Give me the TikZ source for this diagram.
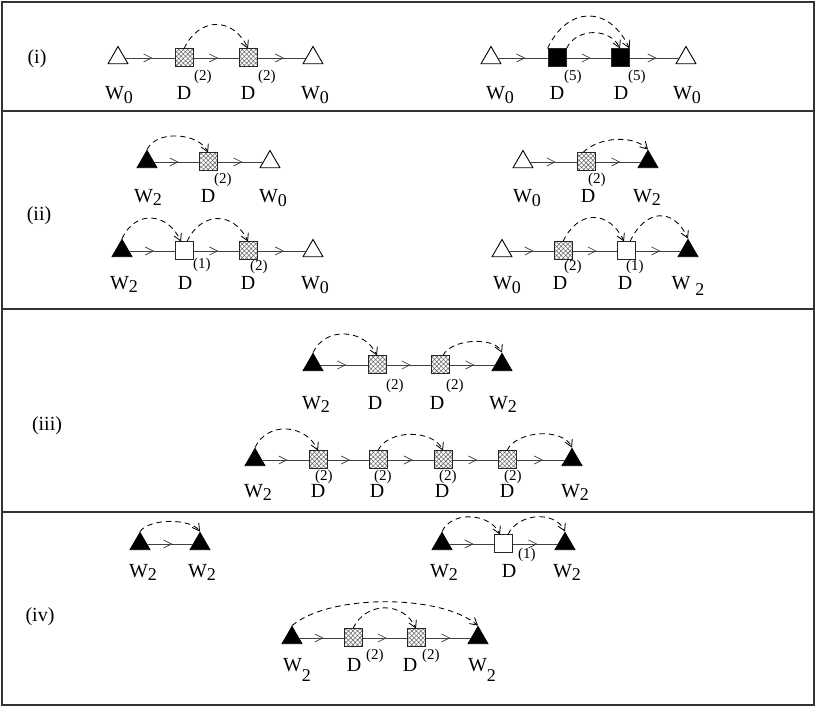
\documentclass[tikz,border=0pt]{standalone}
\usepackage{fontspec}
\setmainfont{Liberation Serif}
\usetikzlibrary{shapes.geometric,arrows.meta,decorations.markings,patterns.meta}

\newcommand{\labsize}{\fontsize{20}{20}\selectfont}
\newcommand{\Wn}[2][4pt]{W\raisebox{-#1}{\fontsize{18}{18}\selectfont #2}}
\newcommand{\Dn}[3][1pt]{D\rlap{\kern#1\raisebox{#2}{\fontsize{15}{15}\selectfont(#3)}}}

\tikzset{
	wtri/.style={regular polygon, regular polygon sides=3, minimum size=23pt, inner sep=0pt, draw=black, line width=0.9pt},
	wzero/.style={wtri, fill=white},
	wtwo/.style={wtri, fill=black},
	dbox/.style={rectangle, minimum size=18pt, inner sep=0pt, draw=black!85, line width=1pt},
	dtwo/.style={dbox, pattern={Hatch[angle=45,distance=3.2pt,line width=0.55pt]}, pattern color=black!60},
	dfive/.style={dbox, fill=black},
	done/.style={dbox, fill=white},
	lab/.style={anchor=base, inner sep=0pt, font=\labsize},
	part/.style={inner sep=0pt, font=\fontsize{20}{20}\selectfont},
	flow/.style={draw=black!75, line width=0.75pt, postaction={decorate},
		decoration={markings, mark=at position 0.55 with {\arrow{Straight Barb[length=8pt,width=8pt]}}}},
	hop/.style={draw=black, line width=0.85pt, dash pattern=on 5.5pt off 4pt, -{Straight Barb[length=7pt,width=8pt]}, looseness=#1},
	hop/.default=1,
}

\begin{document}
\begin{tikzpicture}[x=1pt,y=1pt]
	\useasboundingbox (0,0) rectangle (817,708);
	% frame
	\draw[line width=1.2pt, draw=black!80] (2,3) rectangle (814,706);
	\draw[line width=1.2pt, draw=black!80] (2,597) -- (814,597);
	\draw[line width=1.2pt, draw=black!80] (2,399) -- (814,399);
	\draw[line width=1.2pt, draw=black!80] (2,196) -- (814,196);
	\node[part] (pi) at (37,649) {(i)};
	\node[part] (pii) at (39,492) {(ii)};
	\node[part] (piii) at (47,282) {(iii)};
	\node[part] (piv) at (40,91) {(iv)};

	% (i)
	\node[wzero] (a1) at (118,650) {};
	\node[dtwo] (a2) at (184,650) {};
	\node[dtwo] (a3) at (248,650) {};
	\node[wzero] (a4) at (313,650) {};
	\node[wzero] (a5) at (491,650) {};
	\node[dfive] (a6) at (557,650) {};
	\node[dfive] (a7) at (620,650) {};
	\node[wzero] (a8) at (686,650) {};
	\draw[flow] (a1) -- (a2);
	\draw[flow] (a2) -- (a3);
	\draw[flow] (a3) -- (a4);
	\draw[flow] (a5) -- (a6);
	\draw[flow] (a6) -- (a7);
	\draw[flow] (a7) -- (a8);
	\draw[hop=1.41] (a2.north) to[out=65,in=115] (a3.north);
	\draw[hop=1.49] (a6.north west) to[out=65,in=115] (a7.north east);
	\draw[hop=1.11] (a6.north east) to[out=65,in=115] (a7.north);
	\node[lab] (la1) at (119,608) {\Wn{0}};
	\node[lab] (la2) at (184,608) {\Dn[3pt]{19.5pt}{2}};
	\node[lab] (la3) at (248,608) {\Dn[3pt]{19.5pt}{2}};
	\node[lab] (la4) at (315,608) {\Wn{0}};
	\node[lab] (la5) at (500,608) {\Wn{0}};
	\node[lab] (la6) at (557,608) {\Dn[0pt]{19.5pt}{5}};
	\node[lab] (la7) at (621,608) {\Dn[0pt]{19.5pt}{5}};
	\node[lab] (la8) at (687,608) {\Wn{0}};

	% (ii)
	\node[wtwo] (b1) at (147,546) {};
	\node[dtwo] (b2) at (208,546) {};
	\node[wzero] (b3) at (270,546) {};
	\node[wzero] (b4) at (523,546) {};
	\node[dtwo] (b5) at (586,546) {};
	\node[wtwo] (b6) at (648,546) {};
	\draw[flow] (b1) -- (b2);
	\draw[flow] (b2) -- (b3);
	\draw[flow] (b4) -- (b5);
	\draw[flow] (b5) -- (b6);
	\draw[hop=0.92] (b1.corner 1) to[out=65,in=115] (b2.north);
	\draw[hop=0.85] ([xshift=-3pt]b5.north) to[out=45,in=135] (b6.corner 1);
	\node[lab] (lb1) at (148,505) {\Wn[3pt]{2}};
	\node[lab] (lb2) at (208,505) {\Dn[-1pt]{19.5pt}{2}};
	\node[lab] (lb3) at (273,505) {\Wn{0}};
	\node[lab] (lb4) at (527,505) {\Wn{0}};
	\node[lab] (lb5) at (588,505) {\Dn[-7pt]{19.5pt}{2}};
	\node[lab] (lb6) at (647,505) {\Wn[3pt]{2}};

	\node[wtwo] (c1) at (122,457) {};
	\node[done] (c2) at (184,457) {};
	\node[dtwo] (c3) at (248,457) {};
	\node[wzero] (c4) at (313,457) {};
	\node[wzero] (c5) at (502,457) {};
	\node[dtwo] (c6) at (563,457) {};
	\node[done] (c7) at (626,457) {};
	\node[wtwo] (c8) at (688,457) {};
	\draw[flow] (c1) -- (c2);
	\draw[flow] (c2) -- (c3);
	\draw[flow] (c3) -- (c4);
	\draw[flow] (c5) -- (c6);
	\draw[flow] (c6) -- (c7);
	\draw[flow] (c7) -- (c8);
	\draw[hop=1.39] (c1.corner 1) to[out=65,in=115] ([xshift=-3pt]c2.north);
	\draw[hop=1.41] ([xshift=3pt]c2.north) to[out=65,in=115] (c3.north);
	\draw[hop=1.48] (c6.north) to[out=65,in=115] ([xshift=-2pt]c7.north);
	\draw[hop=1.56] ([xshift=4pt]c7.north) to[out=65,in=115] (c8.corner 1);
	\node[lab] (lc1) at (124,418) {\Wn[3pt]{2}};
	\node[lab] (lc2) at (185,418) {\Dn[1pt]{21.5pt}{1}};
	\node[lab] (lc3) at (248,418) {\Dn[-5pt]{19.5pt}{2}};
	\node[lab] (lc4) at (315,418) {\Wn{0}};
	\node[lab] (lc5) at (507,418) {\Wn{0}};
	\node[lab] (lc6) at (560,418) {\Dn[-3pt]{19.5pt}{2}};
	\node[lab] (lc7) at (625,418) {\Dn[-6pt]{19.5pt}{1}};
	\node[lab] (lc8) at (688,418) {W\hspace{5pt}\raisebox{-6pt}{\fontsize{18}{18}\selectfont 2}};

	% (iii)
	\node[wtwo] (d1) at (313,343) {};
	\node[dtwo] (d2) at (377,343) {};
	\node[dtwo] (d3) at (440,343) {};
	\node[wtwo] (d4) at (502,343) {};
	\draw[flow] (d1) -- (d2);
	\draw[flow] (d2) -- (d3);
	\draw[flow] (d3) -- (d4);
	\draw[hop=1.17] (d1.corner 1) to[out=65,in=115] (d2.north);
	\draw[hop=0.79] ([xshift=3pt]d3.north) to[out=65,in=115] (d4.corner 1);
	\node[lab] (ld1) at (316,298) {\Wn[3pt]{2}};
	\node[lab] (ld2) at (375,298) {\Dn[4pt]{20.5pt}{2}};
	\node[lab] (ld3) at (437,298) {\Dn[2pt]{20.5pt}{2}};
	\node[lab] (ld4) at (503,298) {\Wn[3pt]{2}};

	\node[wtwo] (e1) at (255,248) {};
	\node[dtwo] (e2) at (318,248) {};
	\node[dtwo] (e3) at (378,248) {};
	\node[dtwo] (e4) at (443,248) {};
	\node[dtwo] (e5) at (507,248) {};
	\node[wtwo] (e6) at (572,248) {};
	\draw[flow] (e1) -- (e2);
	\draw[flow] (e2) -- (e3);
	\draw[flow] (e3) -- (e4);
	\draw[flow] (e4) -- (e5);
	\draw[flow] (e5) -- (e6);
	\draw[hop=1.19] (e1.corner 1) to[out=65,in=115] (e2.north);
	\draw[hop=0.93] (e3.north) to[out=65,in=115] (e4.north);
	\draw[hop=0.87] (e5.north) to[out=65,in=115] (e6.corner 1);
	\node[lab] (le1) at (258,210) {\Wn[3pt]{2}};
	\node[lab] (le2) at (318,210) {\Dn[-10pt]{17pt}{2}};
	\node[lab] (le3) at (377,210) {\Dn[-10pt]{17pt}{2}};
	\node[lab] (le4) at (442,210) {\Dn[-10pt]{17pt}{2}};
	\node[lab] (le5) at (507,210) {\Dn[-10pt]{17pt}{2}};
	\node[lab] (le6) at (575,210) {\Wn[3pt]{2}};

	% (iv)
	\node[wtwo] (f1) at (140,164) {};
	\node[wtwo] (f2) at (200,164) {};
	\draw[flow] (f1) -- (f2);
	\draw[hop=0.7] (f1.corner 1) to[out=55,in=125] (f2.corner 1);
	\node[lab] (lf1) at (143,130) {\Wn[3pt]{2}};
	\node[lab] (lf2) at (202,130) {\Wn[3pt]{2}};

	\node[wtwo] (g1) at (442,164) {};
	\node[done] (g2) at (503,164) {};
	\node[wtwo] (g3) at (565,164) {};
	\draw[flow] (g1) -- (g2);
	\draw[flow] (g2) -- (g3);
	\draw[hop=1.04] (g1.corner 1) to[out=65,in=115] ([xshift=-3pt]g2.north);
	\draw[hop=1.06] ([xshift=5pt]g2.north) to[out=65,in=115] (g3.corner 1);
	\node[lab] (lg1) at (444,130) {\Wn[3pt]{2}};
	\node[lab] (lg2) at (509,130) {\Dn[2pt]{19.5pt}{1}};
	\node[lab] (lg3) at (567,130) {\Wn[3pt]{2}};

	\node[wtwo] (h1) at (292,70) {};
	\node[dtwo] (h2) at (353,70) {};
	\node[dtwo] (h3) at (416,70) {};
	\node[wtwo] (h4) at (478,70) {};
	\draw[flow] (h1) -- (h2);
	\draw[flow] (h2) -- (h3);
	\draw[flow] (h3) -- (h4);
	\draw[hop=0.68] (h1.corner 1) to[out=40,in=140] (h4.corner 1);
	\draw[hop=1.23] (h2.north) to[out=65,in=115] (h3.north);
	\node[lab] (lh1) at (297,36) {\Wn[10pt]{2}};
	\node[lab] (lh2) at (354,36) {\Dn[5pt]{12pt}{2}};
	\node[lab] (lh3) at (410,36) {\Dn[5pt]{12pt}{2}};
	\node[lab] (lh4) at (482,36) {\Wn[10pt]{2}};
\end{tikzpicture}
\end{document}
